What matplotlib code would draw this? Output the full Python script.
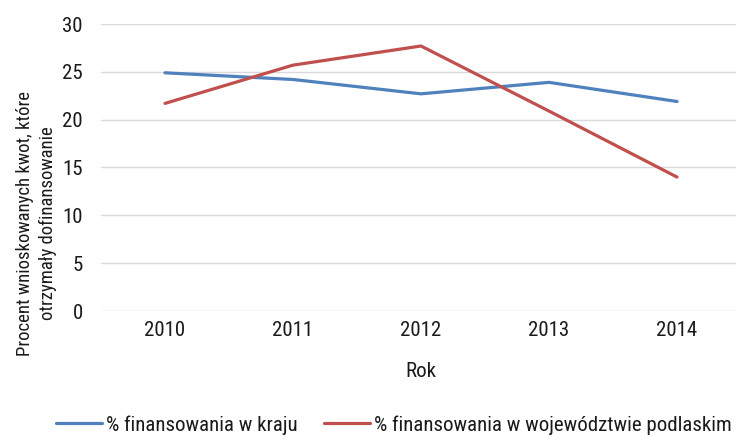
import matplotlib
matplotlib.use("Agg")
import matplotlib.pyplot as plt
from matplotlib import font_manager

years = ["2010", "2011", "2012", "2013", "2014"]
kraj = [24.9, 24.2, 22.7, 23.9, 21.9]
podlaskie = [21.7, 25.7, 27.7, 20.9, 14.0]
series_names = ["% finansowania w kraju", "% finansowania w województwie podlaskim"]

names = {f.name for f in font_manager.fontManager.ttflist}
fam = "DejaVu Sans"
for cand in ["Liberation Sans Narrow", "Roboto Condensed", "Archivo Narrow", "Barlow Semi Condensed"]:
    if cand in names:
        fam = cand
        break
plt.rcParams['font.family'] = [fam, 'DejaVu Sans']

FS = 15
fig = plt.figure(figsize=(7.36, 4.36), dpi=100)
W, H = 736, 436
ax = fig.add_axes([101 / W, 1 - 311 / H, 640 / W, (311 - 24) / H])

x = list(range(len(years)))
ax.plot(x, kraj, color="#4F81BD", lw=2.3, solid_capstyle="round", label=series_names[0])
ax.plot(x, podlaskie, color="#C0504D", lw=2.3, solid_capstyle="round", label=series_names[1])

ax.set_xlim(-0.5, 4.5)
ax.set_ylim(0, 30)
ax.set_yticks(range(0, 31, 5))
ax.set_xticks(x)
ax.set_xticklabels(years)
ax.grid(axis="y", color="#D9D9D9", lw=1)
ax.set_axisbelow(True)
for s in ax.spines.values():
    s.set_visible(False)
ax.tick_params(length=0, labelsize=FS, colors="#1a1a1a")
ax.tick_params(axis="x", pad=7)
ax.tick_params(axis="y", pad=13)

ax.set_xlabel("Rok", fontsize=FS, labelpad=16, color="#1a1a1a")
ax.set_ylabel("Procent wnioskowanych kwot, które\notrzymały dofinansowanie", fontsize=13.5,
              color="#1a1a1a", linespacing=1.35)
ax.yaxis.set_label_coords(-0.069, (311 - 223) / 287)

leg = fig.legend(loc="center", bbox_to_anchor=(394 / W, 1 - 425 / H), ncol=2, frameon=False,
                 fontsize=FS, handlelength=2.2, handletextpad=0.2, columnspacing=1.25)
for t in leg.get_texts():
    t.set_color("#1a1a1a")

fig.savefig("out.png", dpi=100)
